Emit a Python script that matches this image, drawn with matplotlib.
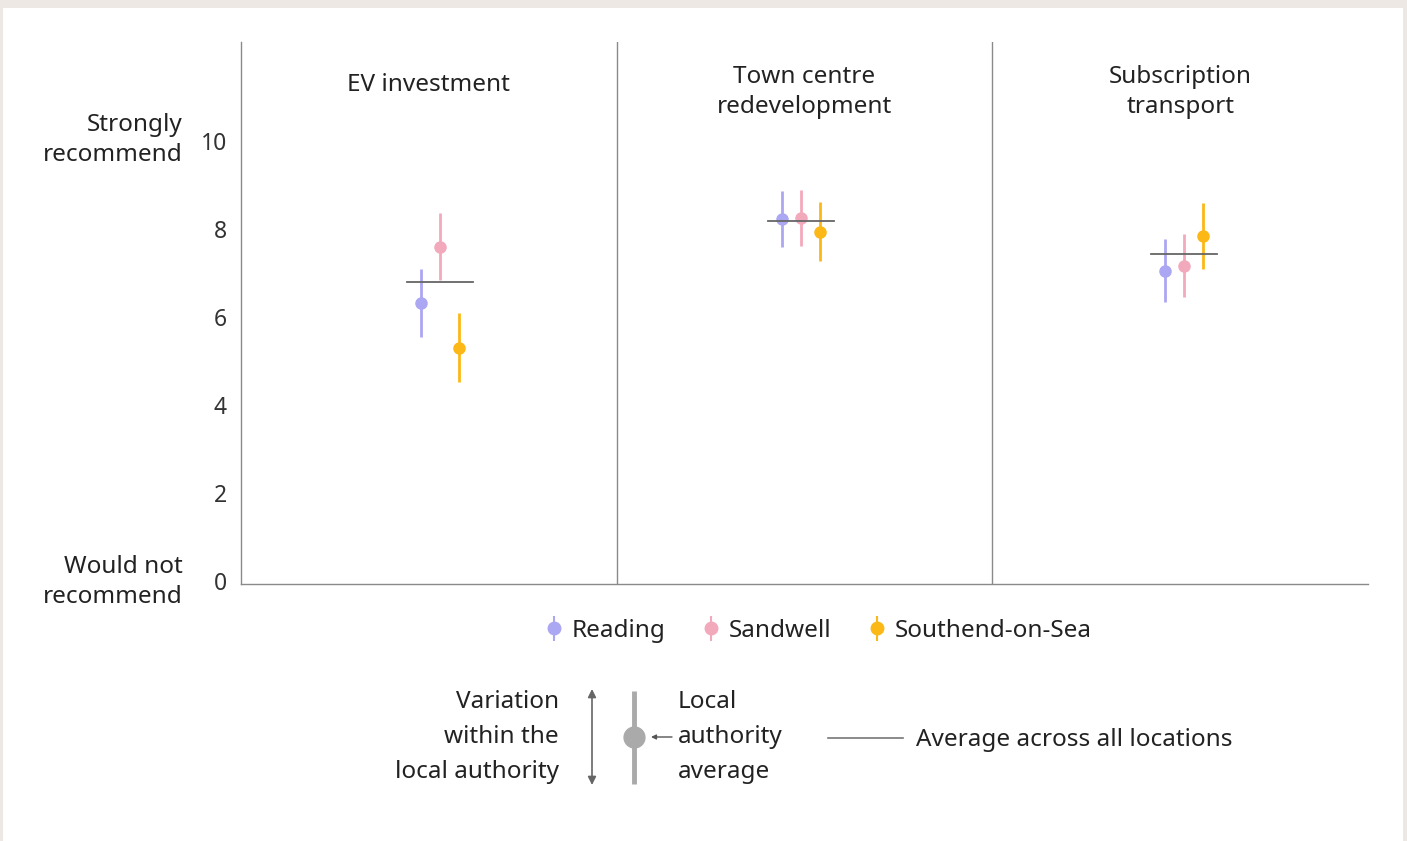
import matplotlib.pyplot as plt
import numpy as np
from matplotlib.patches import Rectangle

plt.rcParams['font.family'] = ['Noto Sans', 'DejaVu Sans']

categories = ['EV investment', 'Town centre\nredevelopment', 'Subscription\ntransport']
places = ['Reading', 'Sandwell', 'Southend-on-Sea']
colors = ['#aba7f2', '#f3a9bc', '#fcb817']

# mean, low, high for each place, per category
means = [[6.32, 8.23, 7.05],
         [7.60, 8.24, 7.16],
         [5.30, 7.94, 7.84]]
lows = [[5.55, 7.58, 6.33],
        [6.84, 7.61, 6.45],
        [4.52, 7.28, 7.09]]
highs = [[7.09, 8.87, 7.77],
         [8.36, 8.89, 7.88],
         [6.08, 8.61, 8.58]]
overall = [6.80, 8.17, 7.42]

group_x = [0.53, 1.49, 2.51]
offs = [-0.05, 0.0, 0.05]

W, H = 1407, 841
FS = 17.5
TXT = '#222222'
fig = plt.figure(figsize=(W / 100, H / 100), dpi=100)
fig.patch.set_facecolor('#ede8e3')

# background / annotation layer in pixel coords
bg = fig.add_axes([0, 0, 1, 1], zorder=-1)
bg.set_xlim(0, W)
bg.set_ylim(H, 0)
bg.axis('off')
bg.add_patch(Rectangle((3, 8), 1400, 840, facecolor='white', edgecolor='none'))

ax = fig.add_axes([241 / W, 1 - 584 / H, (1368 - 241) / W, (584 - 42) / H])
ax.set_facecolor('none')
ax.set_xlim(0, 3)
ax.set_ylim(-0.07, 12.25)

for i in range(3):
    for j in range(3):
        x = group_x[i] + offs[j]
        m = means[j][i]
        ax.errorbar(x, m, yerr=[[m - lows[j][i]], [highs[j][i] - m]], fmt='o',
                    color=colors[j], ms=8, elinewidth=2, capsize=0, zorder=3)
    ax.plot([group_x[i] - 0.088, group_x[i] + 0.088], [overall[i], overall[i]],
            color='#666666', lw=1.3, zorder=4)

for xv in [1, 2]:
    ax.axvline(xv, color='#8a8a8a', lw=1)

ys = [11.27, 11.12, 11.12]
for i, c in enumerate(categories):
    ax.text(i + 0.5, ys[i], c, ha='center', va='center', fontsize=FS,
            color=TXT, linespacing=1.35)

ax.set_yticks([0, 2, 4, 6, 8, 10])
ax.set_xticks([])
ax.tick_params(axis='y', length=0, pad=10, labelsize=16.5, labelcolor='#333333')
for s in ['top', 'right']:
    ax.spines[s].set_visible(False)
for s in ['left', 'bottom']:
    ax.spines[s].set_color('#8a8a8a')
    ax.spines[s].set_linewidth(1)

bg.text(183, 140, 'Strongly\nrecommend', ha='right', va='center', fontsize=FS,
        color=TXT, linespacing=1.35)
bg.text(183, 582, 'Would not\nrecommend', ha='right', va='center', fontsize=FS,
        color=TXT, linespacing=1.35)

# legend
leg_handles = []
for j in range(3):
    eb = ax.errorbar([], [], yerr=[], fmt='o', color=colors[j], ms=9, elinewidth=1.5)
    leg_handles.append(eb)
fig.legend(leg_handles, places, loc='center', bbox_to_anchor=(818 / W, 1 - 631 / H),
           ncol=3, frameon=False, fontsize=FS, handletextpad=0.3, columnspacing=1.45,
           handlelength=0.85, labelcolor=TXT)

# key
bg.text(559, 737, 'Variation\nwithin the\nlocal authority', ha='right', va='center',
        fontsize=FS, color=TXT, linespacing=1.6)
bg.annotate('', xy=(592, 689), xytext=(592, 785),
            arrowprops=dict(arrowstyle='<|-|>', color='#666666', lw=1.2,
                            mutation_scale=12, shrinkA=0, shrinkB=0))
bg.plot([634, 634], [691, 784], color='#aaaaaa', lw=3.5, solid_capstyle='butt')
bg.plot([634], [737], 'o', color='#aaaaaa', ms=15)
bg.annotate('', xy=(651, 737), xytext=(672, 737),
            arrowprops=dict(arrowstyle='-|>', color='#555555', lw=1,
                            mutation_scale=7, shrinkA=0, shrinkB=0))
bg.text(678, 737, 'Local\nauthority\naverage', ha='left', va='center',
        fontsize=FS, color=TXT, linespacing=1.6)
bg.plot([828, 903], [738, 738], color='#777777', lw=1.2)
bg.text(916, 740, 'Average across all locations', ha='left', va='center',
        fontsize=FS, color=TXT)

fig.savefig('out.png', dpi=100, facecolor=fig.get_facecolor())
